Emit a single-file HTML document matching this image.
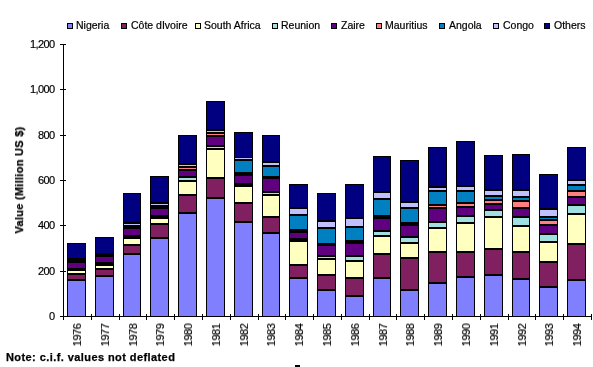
<!DOCTYPE html>
<html><head><meta charset="utf-8"><style>
html,body{margin:0;padding:0;background:#fff;width:593px;height:367px;overflow:hidden;position:relative;font-family:"Liberation Sans",sans-serif;color:#000}
svg{position:absolute;left:0;top:0}
.yl,.lt,.ytt,.note,.xlt{will-change:transform}
.yl{position:absolute;right:538px;-webkit-text-stroke:0.2px #000;font-size:11px;line-height:13px;white-space:nowrap;letter-spacing:-0.6px}
.xl{position:absolute;top:335px;width:0;height:0}
.xl span,.xl{font-size:11px}
.xlt{position:absolute;white-space:nowrap;-webkit-text-stroke:0.2px #000;letter-spacing:-0.45px;transform:translate(-50%,-50%) rotate(-90deg)}
.sw{position:absolute;top:23px;width:4px;height:4px;border:1px solid #000}
.lt{position:absolute;top:19px;-webkit-text-stroke:0.2px #000;font-size:10.5px;line-height:13px;white-space:nowrap}
.yt{position:absolute;left:19px;top:180px;width:0;height:0}
.ytt{position:absolute;white-space:nowrap;font-weight:bold;font-size:11px;letter-spacing:0.28px;-webkit-text-stroke:0.25px #000;transform:translate(-50%,-50%) rotate(-90deg)}
.note{position:absolute;left:6px;top:350px;font-weight:bold;font-size:11px;letter-spacing:0.42px;-webkit-text-stroke:0.25px #000;line-height:14px;white-space:nowrap}
</style></head><body>
<svg width="593" height="367" shape-rendering="crispEdges">
<rect x="67" y="243" width="19" height="74" fill="#000"/>
<rect x="68" y="244" width="17" height="14" fill="#000080"/>
<rect x="68" y="263" width="17" height="5" fill="#600080"/>
<rect x="68" y="271" width="17" height="2" fill="#FFFFC0"/>
<rect x="68" y="275" width="17" height="4" fill="#802060"/>
<rect x="68" y="281" width="17" height="35" fill="#8080FF"/>
<rect x="95" y="237" width="19" height="80" fill="#000"/>
<rect x="96" y="238" width="17" height="15" fill="#000080"/>
<rect x="96" y="257" width="17" height="5" fill="#600080"/>
<rect x="96" y="266" width="17" height="2" fill="#FFFFC0"/>
<rect x="96" y="270" width="17" height="5" fill="#802060"/>
<rect x="96" y="277" width="17" height="39" fill="#8080FF"/>
<rect x="123" y="193" width="18" height="124" fill="#000"/>
<rect x="124" y="194" width="16" height="28" fill="#000080"/>
<rect x="124" y="224" width="16" height="1" fill="#C0C0FF"/>
<rect x="124" y="229" width="16" height="6" fill="#600080"/>
<rect x="124" y="239" width="16" height="5" fill="#FFFFC0"/>
<rect x="124" y="246" width="16" height="7" fill="#802060"/>
<rect x="124" y="255" width="16" height="61" fill="#8080FF"/>
<rect x="150" y="176" width="19" height="141" fill="#000"/>
<rect x="151" y="177" width="17" height="25" fill="#000080"/>
<rect x="151" y="204" width="17" height="1" fill="#C0C0FF"/>
<rect x="151" y="209" width="17" height="6" fill="#600080"/>
<rect x="151" y="219" width="17" height="4" fill="#FFFFC0"/>
<rect x="151" y="225" width="17" height="12" fill="#802060"/>
<rect x="151" y="239" width="17" height="77" fill="#8080FF"/>
<rect x="178" y="135" width="19" height="182" fill="#000"/>
<rect x="179" y="136" width="17" height="27" fill="#000080"/>
<rect x="179" y="165" width="17" height="1" fill="#C0C0FF"/>
<rect x="179" y="168" width="17" height="1" fill="#FF8080"/>
<rect x="179" y="171" width="17" height="5" fill="#600080"/>
<rect x="179" y="178" width="17" height="2" fill="#A0E0E0"/>
<rect x="179" y="182" width="17" height="12" fill="#FFFFC0"/>
<rect x="179" y="196" width="17" height="16" fill="#802060"/>
<rect x="179" y="214" width="17" height="102" fill="#8080FF"/>
<rect x="206" y="101" width="19" height="216" fill="#000"/>
<rect x="207" y="102" width="17" height="27" fill="#000080"/>
<rect x="207" y="131" width="17" height="1" fill="#C0C0FF"/>
<rect x="207" y="134" width="17" height="1" fill="#FF8080"/>
<rect x="207" y="137" width="17" height="8" fill="#600080"/>
<rect x="207" y="147" width="17" height="1" fill="#A0E0E0"/>
<rect x="207" y="150" width="17" height="27" fill="#FFFFC0"/>
<rect x="207" y="179" width="17" height="18" fill="#802060"/>
<rect x="207" y="199" width="17" height="117" fill="#8080FF"/>
<rect x="234" y="132" width="19" height="185" fill="#000"/>
<rect x="235" y="133" width="17" height="24" fill="#000080"/>
<rect x="235" y="158" width="17" height="1" fill="#C0C0FF"/>
<rect x="235" y="161" width="17" height="11" fill="#0080C0"/>
<rect x="235" y="176" width="17" height="7" fill="#600080"/>
<rect x="235" y="187" width="17" height="15" fill="#FFFFC0"/>
<rect x="235" y="204" width="17" height="17" fill="#802060"/>
<rect x="235" y="223" width="17" height="93" fill="#8080FF"/>
<rect x="262" y="135" width="18" height="182" fill="#000"/>
<rect x="263" y="136" width="16" height="25" fill="#000080"/>
<rect x="263" y="163" width="16" height="2" fill="#C0C0FF"/>
<rect x="263" y="167" width="16" height="9" fill="#0080C0"/>
<rect x="263" y="179" width="16" height="12" fill="#600080"/>
<rect x="263" y="193" width="16" height="1" fill="#A0E0E0"/>
<rect x="263" y="196" width="16" height="20" fill="#FFFFC0"/>
<rect x="263" y="218" width="16" height="14" fill="#802060"/>
<rect x="263" y="234" width="16" height="82" fill="#8080FF"/>
<rect x="289" y="184" width="19" height="133" fill="#000"/>
<rect x="290" y="185" width="17" height="22" fill="#000080"/>
<rect x="290" y="209" width="17" height="5" fill="#C0C0FF"/>
<rect x="290" y="216" width="17" height="13" fill="#0080C0"/>
<rect x="290" y="233" width="17" height="5" fill="#600080"/>
<rect x="290" y="242" width="17" height="22" fill="#FFFFC0"/>
<rect x="290" y="266" width="17" height="11" fill="#802060"/>
<rect x="290" y="279" width="17" height="37" fill="#8080FF"/>
<rect x="317" y="193" width="19" height="124" fill="#000"/>
<rect x="318" y="194" width="17" height="26" fill="#000080"/>
<rect x="318" y="222" width="17" height="5" fill="#C0C0FF"/>
<rect x="318" y="229" width="17" height="14" fill="#0080C0"/>
<rect x="318" y="246" width="17" height="9" fill="#600080"/>
<rect x="318" y="257" width="17" height="1" fill="#A0E0E0"/>
<rect x="318" y="260" width="17" height="14" fill="#FFFFC0"/>
<rect x="318" y="276" width="17" height="13" fill="#802060"/>
<rect x="318" y="291" width="17" height="25" fill="#8080FF"/>
<rect x="345" y="184" width="19" height="133" fill="#000"/>
<rect x="346" y="185" width="17" height="32" fill="#000080"/>
<rect x="346" y="219" width="17" height="7" fill="#C0C0FF"/>
<rect x="346" y="228" width="17" height="12" fill="#0080C0"/>
<rect x="346" y="244" width="17" height="11" fill="#600080"/>
<rect x="346" y="257" width="17" height="3" fill="#A0E0E0"/>
<rect x="346" y="262" width="17" height="15" fill="#FFFFC0"/>
<rect x="346" y="279" width="17" height="16" fill="#802060"/>
<rect x="346" y="297" width="17" height="19" fill="#8080FF"/>
<rect x="373" y="156" width="18" height="161" fill="#000"/>
<rect x="374" y="157" width="16" height="34" fill="#000080"/>
<rect x="374" y="193" width="16" height="5" fill="#C0C0FF"/>
<rect x="374" y="200" width="16" height="15" fill="#0080C0"/>
<rect x="374" y="219" width="16" height="11" fill="#600080"/>
<rect x="374" y="232" width="16" height="3" fill="#A0E0E0"/>
<rect x="374" y="237" width="16" height="16" fill="#FFFFC0"/>
<rect x="374" y="255" width="16" height="22" fill="#802060"/>
<rect x="374" y="279" width="16" height="37" fill="#8080FF"/>
<rect x="400" y="160" width="19" height="157" fill="#000"/>
<rect x="401" y="161" width="17" height="40" fill="#000080"/>
<rect x="401" y="203" width="17" height="4" fill="#C0C0FF"/>
<rect x="401" y="209" width="17" height="13" fill="#0080C0"/>
<rect x="401" y="226" width="17" height="10" fill="#600080"/>
<rect x="401" y="238" width="17" height="4" fill="#A0E0E0"/>
<rect x="401" y="244" width="17" height="13" fill="#FFFFC0"/>
<rect x="401" y="259" width="17" height="30" fill="#802060"/>
<rect x="401" y="291" width="17" height="25" fill="#8080FF"/>
<rect x="428" y="147" width="19" height="170" fill="#000"/>
<rect x="429" y="148" width="17" height="38" fill="#000080"/>
<rect x="429" y="188" width="17" height="2" fill="#C0C0FF"/>
<rect x="429" y="192" width="17" height="12" fill="#0080C0"/>
<rect x="429" y="206" width="17" height="1" fill="#FF8080"/>
<rect x="429" y="209" width="17" height="12" fill="#600080"/>
<rect x="429" y="223" width="17" height="4" fill="#A0E0E0"/>
<rect x="429" y="229" width="17" height="22" fill="#FFFFC0"/>
<rect x="429" y="253" width="17" height="29" fill="#802060"/>
<rect x="429" y="284" width="17" height="32" fill="#8080FF"/>
<rect x="456" y="141" width="19" height="176" fill="#000"/>
<rect x="457" y="142" width="17" height="43" fill="#000080"/>
<rect x="457" y="187" width="17" height="3" fill="#C0C0FF"/>
<rect x="457" y="192" width="17" height="10" fill="#0080C0"/>
<rect x="457" y="204" width="17" height="2" fill="#FF8080"/>
<rect x="457" y="208" width="17" height="7" fill="#600080"/>
<rect x="457" y="217" width="17" height="5" fill="#A0E0E0"/>
<rect x="457" y="224" width="17" height="27" fill="#FFFFC0"/>
<rect x="457" y="253" width="17" height="23" fill="#802060"/>
<rect x="457" y="278" width="17" height="38" fill="#8080FF"/>
<rect x="484" y="155" width="19" height="162" fill="#000"/>
<rect x="485" y="156" width="17" height="33" fill="#000080"/>
<rect x="485" y="191" width="17" height="4" fill="#C0C0FF"/>
<rect x="485" y="197" width="17" height="2" fill="#0080C0"/>
<rect x="485" y="201" width="17" height="2" fill="#FF8080"/>
<rect x="485" y="205" width="17" height="4" fill="#600080"/>
<rect x="485" y="211" width="17" height="5" fill="#A0E0E0"/>
<rect x="485" y="218" width="17" height="30" fill="#FFFFC0"/>
<rect x="485" y="250" width="17" height="24" fill="#802060"/>
<rect x="485" y="276" width="17" height="40" fill="#8080FF"/>
<rect x="512" y="154" width="18" height="163" fill="#000"/>
<rect x="513" y="155" width="16" height="34" fill="#000080"/>
<rect x="513" y="191" width="16" height="5" fill="#C0C0FF"/>
<rect x="513" y="198" width="16" height="2" fill="#0080C0"/>
<rect x="513" y="202" width="16" height="5" fill="#FF8080"/>
<rect x="513" y="209" width="16" height="7" fill="#600080"/>
<rect x="513" y="218" width="16" height="7" fill="#A0E0E0"/>
<rect x="513" y="227" width="16" height="24" fill="#FFFFC0"/>
<rect x="513" y="253" width="16" height="25" fill="#802060"/>
<rect x="513" y="280" width="16" height="36" fill="#8080FF"/>
<rect x="539" y="174" width="19" height="143" fill="#000"/>
<rect x="540" y="175" width="17" height="33" fill="#000080"/>
<rect x="540" y="210" width="17" height="6" fill="#C0C0FF"/>
<rect x="540" y="218" width="17" height="1" fill="#0080C0"/>
<rect x="540" y="221" width="17" height="3" fill="#FF8080"/>
<rect x="540" y="226" width="17" height="7" fill="#600080"/>
<rect x="540" y="235" width="17" height="6" fill="#A0E0E0"/>
<rect x="540" y="243" width="17" height="18" fill="#FFFFC0"/>
<rect x="540" y="263" width="17" height="23" fill="#802060"/>
<rect x="540" y="288" width="17" height="28" fill="#8080FF"/>
<rect x="567" y="147" width="19" height="170" fill="#000"/>
<rect x="568" y="148" width="17" height="31" fill="#000080"/>
<rect x="568" y="181" width="17" height="3" fill="#C0C0FF"/>
<rect x="568" y="186" width="17" height="4" fill="#0080C0"/>
<rect x="568" y="192" width="17" height="4" fill="#FF8080"/>
<rect x="568" y="198" width="17" height="6" fill="#600080"/>
<rect x="568" y="206" width="17" height="7" fill="#A0E0E0"/>
<rect x="568" y="215" width="17" height="28" fill="#FFFFC0"/>
<rect x="568" y="245" width="17" height="34" fill="#802060"/>
<rect x="568" y="281" width="17" height="35" fill="#8080FF"/>
<rect x="63" y="44" width="1" height="273" fill="#000"/>
<rect x="63" y="316" width="529" height="1" fill="#000"/>
<rect x="60" y="316" width="6" height="1" fill="#000"/>
<rect x="60" y="271" width="6" height="1" fill="#000"/>
<rect x="60" y="225" width="6" height="1" fill="#000"/>
<rect x="60" y="180" width="6" height="1" fill="#000"/>
<rect x="60" y="135" width="6" height="1" fill="#000"/>
<rect x="60" y="89" width="6" height="1" fill="#000"/>
<rect x="60" y="44" width="6" height="1" fill="#000"/>
<rect x="91" y="314" width="1" height="6" fill="#000"/>
<rect x="119" y="314" width="1" height="6" fill="#000"/>
<rect x="146" y="314" width="1" height="6" fill="#000"/>
<rect x="174" y="314" width="1" height="6" fill="#000"/>
<rect x="202" y="314" width="1" height="6" fill="#000"/>
<rect x="230" y="314" width="1" height="6" fill="#000"/>
<rect x="258" y="314" width="1" height="6" fill="#000"/>
<rect x="285" y="314" width="1" height="6" fill="#000"/>
<rect x="313" y="314" width="1" height="6" fill="#000"/>
<rect x="341" y="314" width="1" height="6" fill="#000"/>
<rect x="369" y="314" width="1" height="6" fill="#000"/>
<rect x="396" y="314" width="1" height="6" fill="#000"/>
<rect x="424" y="314" width="1" height="6" fill="#000"/>
<rect x="452" y="314" width="1" height="6" fill="#000"/>
<rect x="480" y="314" width="1" height="6" fill="#000"/>
<rect x="508" y="314" width="1" height="6" fill="#000"/>
<rect x="535" y="314" width="1" height="6" fill="#000"/>
<rect x="563" y="314" width="1" height="6" fill="#000"/>
<rect x="591" y="314" width="1" height="6" fill="#000"/>
<rect x="60" y="316" width="3" height="1" fill="#000"/>
<rect x="63" y="317" width="1" height="3" fill="#000"/>
<rect x="295" y="365" width="5" height="2" fill="#000"/>
</svg>
<div class="yl" style="top:310px">0</div>
<div class="yl" style="top:265px">200</div>
<div class="yl" style="top:219px">400</div>
<div class="yl" style="top:174px">600</div>
<div class="yl" style="top:129px">800</div>
<div class="yl" style="top:83px">1,000</div>
<div class="yl" style="top:38px">1,200</div>
<div class="sw" style="left:67px;background:#8080FF"></div><div class="lt" style="left:75.5px">Nigeria</div>
<div class="sw" style="left:121px;background:#802060"></div><div class="lt" style="left:131.1px">Côte dIvoire</div>
<div class="sw" style="left:195px;background:#FFFFC0"></div><div class="lt" style="left:204.1px">South Africa</div>
<div class="sw" style="left:272px;background:#A0E0E0"></div><div class="lt" style="left:281.3px">Reunion</div>
<div class="sw" style="left:331px;background:#600080"></div><div class="lt" style="left:341.2px">Zaire</div>
<div class="sw" style="left:376px;background:#FF8080"></div><div class="lt" style="left:385.2px">Mauritius</div>
<div class="sw" style="left:439px;background:#0080C0"></div><div class="lt" style="left:449.0px">Angola</div>
<div class="sw" style="left:493px;background:#C0C0FF"></div><div class="lt" style="left:502.5px">Congo</div>
<div class="sw" style="left:544px;background:#000080"></div><div class="lt" style="left:554.2px">Others</div>
<div class="yt"><div class="ytt">Value (Million US $)</div></div>
<div class="note">Note: c.i.f. values not deflated</div>
<div class="xl" style="left:76.9px"><div class="xlt">1976</div></div>
<div class="xl" style="left:104.7px"><div class="xlt">1977</div></div>
<div class="xl" style="left:132.5px"><div class="xlt">1978</div></div>
<div class="xl" style="left:160.3px"><div class="xlt">1979</div></div>
<div class="xl" style="left:188.1px"><div class="xlt">1980</div></div>
<div class="xl" style="left:215.8px"><div class="xlt">1981</div></div>
<div class="xl" style="left:243.6px"><div class="xlt">1982</div></div>
<div class="xl" style="left:271.4px"><div class="xlt">1983</div></div>
<div class="xl" style="left:299.2px"><div class="xlt">1984</div></div>
<div class="xl" style="left:327.0px"><div class="xlt">1985</div></div>
<div class="xl" style="left:354.8px"><div class="xlt">1986</div></div>
<div class="xl" style="left:382.6px"><div class="xlt">1987</div></div>
<div class="xl" style="left:410.4px"><div class="xlt">1988</div></div>
<div class="xl" style="left:438.2px"><div class="xlt">1989</div></div>
<div class="xl" style="left:466.0px"><div class="xlt">1990</div></div>
<div class="xl" style="left:493.7px"><div class="xlt">1991</div></div>
<div class="xl" style="left:521.5px"><div class="xlt">1992</div></div>
<div class="xl" style="left:549.3px"><div class="xlt">1993</div></div>
<div class="xl" style="left:577.1px"><div class="xlt">1994</div></div>
</body></html>
